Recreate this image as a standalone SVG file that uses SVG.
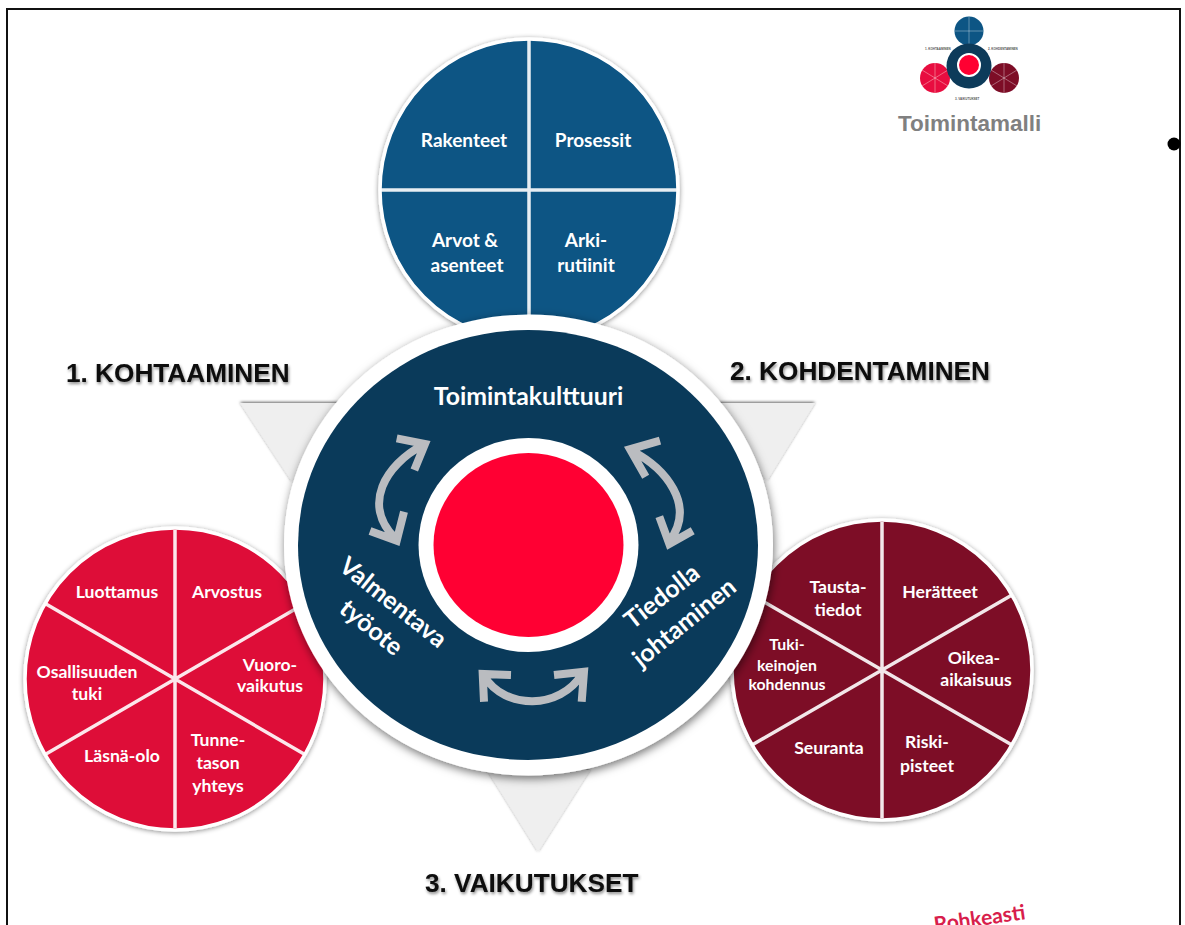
<svg xmlns="http://www.w3.org/2000/svg" width="1185" height="925" viewBox="0 0 1185 925">
<style>
.w{font-family:"Lato","Noto Sans",sans-serif;font-weight:700;font-size:19px;fill:#fff;text-anchor:middle}
.s{font-size:17.600px}
.xs{font-size:15.800px}
.big{font-size:24.800px}
.h{font-family:"Liberation Sans",Arial,sans-serif;font-weight:700;font-size:26.200px;fill:#0a0a0a;filter:url(#ts)}
.tri{fill:#efefef;filter:url(#sh3)}
.sp{stroke:#fff;stroke-width:3.500;stroke-opacity:.9;fill:none}
.rim{stroke:#fff;stroke-width:3.500;filter:url(#sh)}
.arr{fill:none;stroke:#babcc0;stroke-width:8;stroke-linejoin:miter}
.tiny{font-family:"Liberation Sans",Arial,sans-serif;font-weight:700;font-size:3px;fill:#555}
</style>
<defs>
<filter id="sh" x="-20%" y="-20%" width="140%" height="140%"><feDropShadow dx="0" dy="1" stdDeviation="2.500" flood-color="#000" flood-opacity=".45"/></filter>
<filter id="sh3" x="-20%" y="-20%" width="140%" height="140%"><feDropShadow dx="0" dy="-1" stdDeviation="1.800" flood-color="#000" flood-opacity=".6"/></filter>
<filter id="sh2" x="-20%" y="-20%" width="140%" height="140%"><feDropShadow dx="1" dy="3" stdDeviation="5" flood-color="#000" flood-opacity=".55"/></filter>
<filter id="ts" x="-10%" y="-30%" width="120%" height="170%"><feDropShadow dx="1" dy="2" stdDeviation="1.600" flood-color="#000" flood-opacity=".45"/></filter>
<filter id="soft" x="-10%" y="-10%" width="120%" height="120%"><feGaussianBlur stdDeviation=".6"/></filter>
</defs>
<rect width="1185" height="925" fill="#fff"/>

<g id="triangle-1"><polygon class="tri" points="240,403 345,403 292,482"/></g>
<g id="triangle-2"><polygon class="tri" points="815,403 715,403 767,481"/></g>
<g id="triangle-3"><polygon class="tri" points="487,770 590,770 538,852"/></g>

<g id="node-rakenne">
<ellipse class="rim" cx="529" cy="190" rx="149" ry="151" fill="#0a5484"/>
<path class="sp" d="M529,40V340M380,190H678"/>
<text class="w" x="464" y="147">Rakenteet</text>
<text class="w" x="593" y="147">Prosessit</text>
<text class="w" x="465" y="247">Arvot &amp;</text>
<text class="w" x="467" y="272">asenteet</text>
<text class="w" x="586" y="247">Arki-</text>
<text class="w" x="586" y="272">rutiinit</text>
</g>

<g id="node-kohtaaminen">
<ellipse class="rim" cx="175" cy="679" rx="150" ry="151" fill="#de0a38"/>
<path class="sp" d="M175,530V828M46,604L304,754M46,754L304,604"/>
<text class="w s" x="117" y="598">Luottamus</text>
<text class="w s" x="227" y="598">Arvostus</text>
<text class="w s" x="270" y="671">Vuoro-</text>
<text class="w s" x="270" y="692">vaikutus</text>
<text class="w s" x="87" y="678">Osallisuuden</text>
<text class="w s" x="87" y="700">tuki</text>
<text class="w s" x="122" y="762">Läsnä-olo</text>
<text class="w s" x="218" y="746">Tunne-</text>
<text class="w s" x="218" y="769">tason</text>
<text class="w s" x="218" y="792">yhteys</text>
</g>

<g id="node-kohdentaminen">
<ellipse class="rim" cx="882" cy="670" rx="150" ry="150" fill="#7d0f28"/>
<path class="sp" d="M882,522V818M752,595L1012,745M752,745L1012,595"/>
<text class="w s" x="838" y="593">Tausta-</text>
<text class="w s" x="838" y="616">tiedot</text>
<text class="w s" x="940" y="598">Herätteet</text>
<text class="w xs" x="787" y="650">Tuki-</text>
<text class="w xs" x="787" y="671">keinojen</text>
<text class="w xs" x="787" y="690">kohdennus</text>
<text class="w s" x="974" y="664">Oikea-</text>
<text class="w s" x="976" y="686">aikaisuus</text>
<text class="w s" x="829" y="754">Seuranta</text>
<text class="w s" x="927" y="748">Riski-</text>
<text class="w s" x="927" y="772">pisteet</text>
</g>

<g id="node-toimintakulttuuri">
<ellipse cx="528.500" cy="545" rx="244.500" ry="230.500" fill="#fff" filter="url(#sh2)"/>
<ellipse cx="528" cy="545" rx="230" ry="215" fill="#0a3a5a"/>
<ellipse cx="528.500" cy="545" rx="110" ry="107" fill="#fff"/>
<ellipse cx="528.500" cy="545" rx="95" ry="92" fill="#ff0033"/>
<text class="w big" x="528.500" y="405">Toimintakulttuuri</text>
<text class="w big" transform="translate(388,609) rotate(38.500)">Valmentava</text>
<text class="w big" transform="translate(366,634) rotate(39)">työote</text>
<text class="w big" transform="translate(667,603) rotate(-38)">Tiedolla</text>
<text class="w big" transform="translate(689.500,629) rotate(-39)">johtaminen</text>
</g>

<g id="connectors">
<path class="arr" d="M423,445C385,465 362,505 395,538M396.700,438.300L425,444L414.300,470M370,531L396.700,540.700L404,511.700"/>
<path class="arr" d="M632,451C665,468 697,505 669,542M660,440.700L630,449.300L645.700,476.700M692.700,530.700L669.300,544L659.300,516.700"/>
<path class="arr" d="M484,676C505,710 560,710 582,674M511,675L482.700,674L484,701.700M554,675L584,671.700L581.700,701.700"/>
</g>

<g id="labels">
<text class="h" x="66" y="382">1. KOHTAAMINEN</text>
<text class="h" x="730" y="380">2. KOHDENTAMINEN</text>
<text class="h" x="425" y="892">3. VAIKUTUKSET</text>
</g>

<g id="logo">
<g filter="url(#soft)">
<circle cx="969" cy="31" r="14.500" fill="#0a5484"/>
<circle cx="935" cy="78" r="15" fill="#e8103f"/>
<circle cx="1004" cy="78" r="15" fill="#7d0f28"/>
<path d="M969,17V45M955,31H983M935,63V93M922,70L948,86M922,86L948,70M1004,63V93M991,70L1017,86M991,86L1017,70" stroke="#fff" stroke-opacity=".45" stroke-width=".8" fill="none"/>
<circle cx="969" cy="66" r="22.500" fill="#0a3a5a"/>
<circle cx="969" cy="65" r="11" fill="#ff0033" stroke="#fff" stroke-width="2"/>
</g>
<text class="tiny" x="925" y="50">1. KOHTAAMINEN</text>
<text class="tiny" x="988" y="50">2. KOHDENTAMINEN</text>
<text class="tiny" x="955" y="100">3. VAIKUTUKSET</text>
<text x="898" y="131" font-family="Liberation Sans,Arial,sans-serif" font-weight="700" font-size="22.500" fill="#808080">Toimintamalli</text>
</g>

<text id="brand" transform="translate(935,932) rotate(-8)" font-family="Lato,sans-serif" font-weight="700" font-size="21" fill="#d81e4c">Rohkeasti</text>

<g id="frame">
<rect x="7" y="9" width="1173" height="940" fill="none" stroke="#111" stroke-width="2"/>
<circle cx="1174" cy="144" r="6.500" fill="#000"/>
</g>
</svg>
